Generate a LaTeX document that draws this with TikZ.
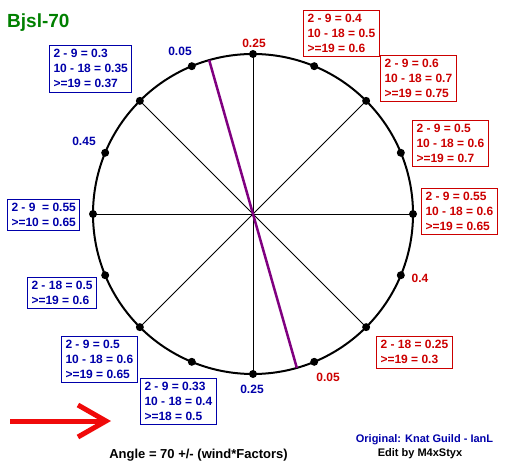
\documentclass[tikz,border=0pt]{standalone}
\usepackage{fontspec}
\setmainfont{Liberation Sans}
\usetikzlibrary{positioning,arrows.meta,calc}
\definecolor{Crimson}{RGB}{204,0,0}
\definecolor{Navy}{RGB}{0,0,170}
\definecolor{Forest}{RGB}{0,128,0}
\definecolor{Plum}{RGB}{128,0,128}
\definecolor{Signal}{RGB}{240,10,10}

\begin{document}
\begin{tikzpicture}[
    x=1pt,y=1pt,
    redbox/.style={rectangle,draw=Crimson,text=Crimson,line width=1pt,inner xsep=4pt,inner ysep=4pt,align=left,anchor=north west,font=\fontsize{12}{15}\selectfont\bfseries},
    bluebox/.style={redbox,draw=Navy,text=Navy},
    redlabel/.style={text=Crimson,inner sep=0pt,font=\fontsize{12}{14}\selectfont\bfseries},
    bluelabel/.style={redlabel,text=Navy},
    spoke/.style={draw=black,line width=0.9pt},
    dot/.style={circle,fill=black,minimum size=8pt,inner sep=0pt},
    windarrow/.style={-{Straight Barb[length=28pt,width=32pt]},draw=Signal,line width=5pt}
]
\useasboundingbox (0,0) rectangle (505,463);

\node[text=Forest,anchor=west,inner sep=0pt,font=\fontsize{19}{22}\selectfont\bfseries] (title) at (7,440) {Bjsl-70};

% Compass circle
\coordinate (center) at (253,249);
\draw[line width=2pt] (center) circle (160);

% Rim dots
\node[dot] (d0) at ($(center)+(0:160)$) {};
\node[dot] (d1) at ($(center)+(22.5:160)$) {};
\node[dot] (d2) at ($(center)+(45:160)$) {};
\node[dot] (d3) at ($(center)+(67.5:160)$) {};
\node[dot] (d4) at ($(center)+(90:160)$) {};
\node[dot] (d5) at ($(center)+(112.5:160)$) {};
\node[dot] (d6) at ($(center)+(135:160)$) {};
\node[dot] (d7) at ($(center)+(157.5:160)$) {};
\node[dot] (d8) at ($(center)+(180:160)$) {};
\node[dot] (d9) at ($(center)+(202.5:160)$) {};
\node[dot] (d10) at ($(center)+(225:160)$) {};
\node[dot] (d11) at ($(center)+(247.5:160)$) {};
\node[dot] (d12) at ($(center)+(270:160)$) {};
\node[dot] (d13) at ($(center)+(292.5:160)$) {};
\node[dot] (d14) at ($(center)+(315:160)$) {};
\node[dot] (d15) at ($(center)+(337.5:160)$) {};

% Spokes
\draw[spoke] (d0.center) -- (d8.center);
\draw[spoke] (d2.center) -- (d10.center);
\draw[spoke] (d4.center) -- (d12.center);
\draw[spoke] (d6.center) -- (d14.center);

% Wind line
\coordinate (wind-top) at ($(center)+(105.9:160)$);
\coordinate (wind-bottom) at ($(center)+(285.9:160)$);
\draw[draw=Plum,line width=2.5pt] (wind-top) -- (wind-bottom);

% Rim labels
\node[redlabel] (lab-n) at (254,420) {0.25};
\node[bluelabel] (lab-nnw) at (180,412) {0.05};
\node[bluelabel] (lab-wnw) at (84,322) {0.45};
\node[redlabel] (lab-ese) at (420,185) {0.4};
\node[redlabel] (lab-sse) at (328,86) {0.05};
\node[bluelabel] (lab-s) at (252,74) {0.25};

% Factor boxes, right side
\node[redbox] (box-r1) at (303,453) {2 - 9 = 0.4\\10 - 18 = 0.5\\>=19 = 0.6};
\node[redbox] (box-r2) at (380,408) {2 - 9 = 0.6\\10 - 18 = 0.7\\>=19 = 0.75};
\node[redbox] (box-r3) at (412,343) {2 - 9 = 0.5\\10 - 18 = 0.6\\>=19 = 0.7};
\node[redbox] (box-r4) at (421,275) {2 - 9 = 0.55\\10 - 18 = 0.6\\>=19 = 0.65};
\node[redbox] (box-r5) at (376,127) {2 - 18 = 0.25\\>=19 = 0.3};

% Factor boxes, left side
\node[bluebox] (box-l1) at (49,418) {2 - 9 = 0.3\\10 - 18 = 0.35\\>=19 = 0.37};
\node[bluebox] (box-l2) at (7,264) {2 - 9\ \ = 0.55\\>=10 = 0.65};
\node[bluebox] (box-l3) at (27,186) {2 - 18 = 0.5\\>=19 = 0.6};
\node[bluebox] (box-l4) at (61,127) {2 - 9 = 0.5\\10 - 18 = 0.6\\>=19 = 0.65};
\node[bluebox] (box-l5) at (140,85) {2 - 9 = 0.33\\10 - 18 = 0.4\\>=18 = 0.5};

% Wind arrow
\coordinate (arrow-tail) at (10,42);
\coordinate (arrow-head) at (111,42);
\draw[windarrow] (arrow-tail) -- (arrow-head);

% Footer
\node[inner sep=0pt,font=\fontsize{13}{15}\selectfont\bfseries] (formula) at (198.5,8) {Angle = 70 +/- (wind*Factors)};
\node[text=Navy,inner sep=0pt,font=\fontsize{11}{13}\selectfont\bfseries] (credit) at (424.5,23) {Original: Knat Guild - IanL};
\node[inner sep=0pt,font=\fontsize{11}{13}\selectfont\bfseries] (editor) at (420,9) {Edit by M4xStyx};

\end{tikzpicture}
\end{document}
